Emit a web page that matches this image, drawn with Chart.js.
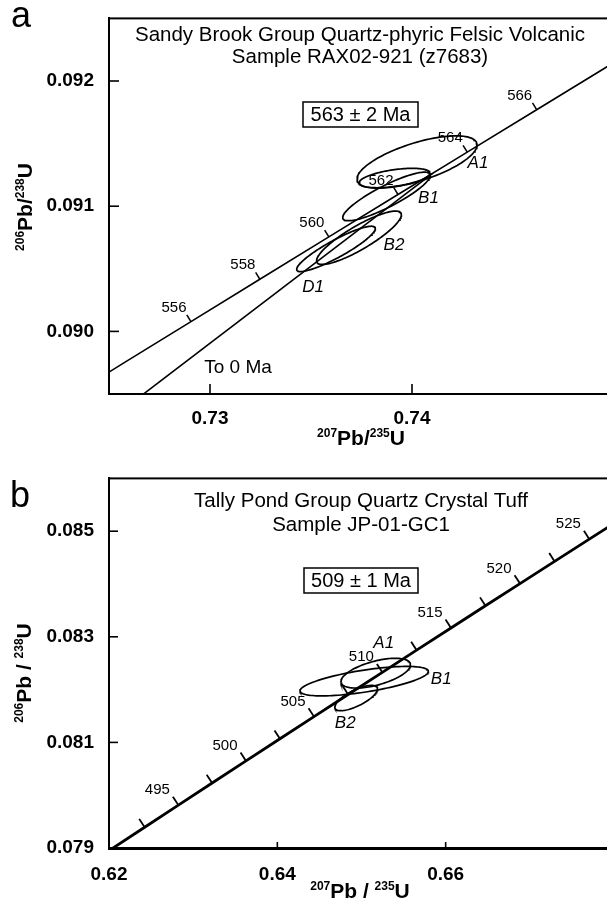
<!DOCTYPE html>
<html>
<head>
<meta charset="utf-8">
<title>U-Pb concordia diagrams</title>
<script src="https://cdn.jsdelivr.net/npm/chart.js@4.4.1/dist/chart.umd.min.js"></script>
<style>
  html, body { margin: 0; padding: 0; background: #fff; overflow: hidden; width: 607px; height: 904px; }
  .panel { position: absolute; left: 0; }
  #wrapA { top: 0; }
  #wrapB { top: 460px; }
  canvas { display: block; }
</style>
</head>
<body>
<div class="panel" id="wrapA"><canvas id="chartA" width="625" height="460"></canvas></div>
<div class="panel" id="wrapB"><canvas id="chartB" width="625" height="444"></canvas></div>
<script>
// ---------- Panel a: Sandy Brook Group, sample RAX02-921 (z7683) ----------
const concordiaAgeA   = [552, 554, 556, 558, 560, 562, 564, 566, 568, 570];
const concordiaPb207A = [0.722260, 0.725655, 0.729058, 0.732467, 0.735883, 0.739306, 0.742735, 0.746171, 0.749614, 0.753064];
const concordiaPb206A = [0.0894021, 0.0897402, 0.0900783, 0.0904165, 0.0907549, 0.0910934, 0.0914318, 0.0917706, 0.0921094, 0.0924482];
const markedAgeA      = [556, 558, 560, 562, 564, 566];
const labelledAgeA    = [556, 558, 560, 562, 564, 566];
// Pb-loss line from the upper intercept down to 0 Ma
const interceptAgeA   = 563;
const interceptPb207A = 0.741020;
const interceptPb206A = 0.0912626;
// zircon fractions: centre, 2-sigma half-widths and error correlation ('' = not labelled)
const fractionA    = ['A1', '', 'B1', 'B2', 'D1'];
const fracPb207A   = [0.740248, 0.739134, 0.738738, 0.737376, 0.736238];
const fracPb206A   = [0.091353, 0.091225, 0.091078, 0.090748, 0.090659];
const fracErr207A  = [0.002970, 0.001757, 0.002168, 0.002099, 0.001946];
const fracErr206A  = [0.000209, 0.0000775, 0.000194, 0.000213, 0.000181];
const fracRhoA     = [0.65, 0.50, 0.869, 0.863, 0.90];
const xTickLabelsA = ['0.73', '0.74'];
const yTickLabelsA = ['0.090', '0.091', '0.092'];

// ---------- Panel b: Tally Pond Group, sample JP-01-GC1 ----------
const concordiaAgeB   = [490, 492.5, 495, 497.5, 500, 502.5, 505, 507.5, 510, 512.5, 515, 517.5, 520, 522.5, 525, 527.5];
const concordiaPb207B = [0.620243, 0.624238, 0.628242, 0.632255, 0.636279, 0.640313, 0.644356, 0.648410, 0.652474, 0.656547, 0.660631, 0.664725, 0.668829, 0.672943, 0.677067, 0.681201];
const concordiaPb206B = [0.0789748, 0.0793932, 0.0798119, 0.0802308, 0.0806498, 0.0810688, 0.0814882, 0.0819077, 0.0823274, 0.0827473, 0.0831673, 0.0835873, 0.0840077, 0.0844281, 0.0848487, 0.0852696];
const markedAgeB      = [492.5, 495, 497.5, 500, 502.5, 505, 507.5, 510, 512.5, 515, 517.5, 520, 522.5, 525];
const labelledAgeB    = [495, 500, 505, 510, 515, 520, 525];
const fractionB    = ['A1', 'B1', 'B2'];
const fracPb207B   = [0.65169, 0.65032, 0.64937];
const fracPb206B   = [0.082311, 0.082160, 0.081840];
const fracErr207B  = [0.00413, 0.00763, 0.00254];
const fracErr206B  = [0.000282, 0.000279, 0.000240];
const fracRhoB     = [0.561, 0.658, 0.721];
const xTickLabelsB = ['0.62', '0.64', '0.66'];
const yTickLabelsB = ['0.079', '0.081', '0.083', '0.085'];

const FONT = '"Liberation Sans", Arial, Helvetica, sans-serif';

// outline of an error ellipse given its half-widths and correlation
function ellipseOutline(cx, cy, ex, ey, rho, n) {
  const pts = [];
  const s = Math.sqrt(1 - rho * rho);
  for (let i = 0; i <= n; i++) {
    const t = 2 * Math.PI * i / n;
    pts.push({ x: cx + ex * Math.cos(t), y: cy + ey * (rho * Math.cos(t) + s * Math.sin(t)) });
  }
  return pts;
}

function toPoints(xs, ys) { return xs.map((v, i) => ({ x: v, y: ys[i] })); }

// tick label only where the value is a whole step of the given decimals and listed
function labelFor(list, dec) {
  const f = Math.pow(10, dec);
  return v => {
    if (Math.abs(v * f - Math.round(v * f)) > 1e-6) return null;
    const s = v.toFixed(dec);
    return list.includes(s) ? s : null;
  };
}

// text with superscript mass numbers, centred on its baseline
function supText(ctx, parts, cx, cy, rotate, mainPx, supPx, rise) {
  ctx.save();
  ctx.translate(cx, cy);
  if (rotate) ctx.rotate(-Math.PI / 2);
  ctx.textAlign = 'left';
  ctx.textBaseline = 'alphabetic';
  const widths = parts.map(([t, sup]) => {
    ctx.font = `bold ${sup ? supPx : mainPx}px ${FONT}`;
    return ctx.measureText(t).width;
  });
  let x = -widths.reduce((s, v) => s + v, 0) / 2;
  parts.forEach(([t, sup], i) => {
    ctx.font = `bold ${sup ? supPx : mainPx}px ${FONT}`;
    ctx.fillText(t, x, sup ? -rise : 0);
    x += widths[i];
  });
  ctx.restore();
}

const concordiaDecor = {
  id: 'concordiaDecor',
  afterDatasetsDraw(chart, args, o) {
    const { ctx, chartArea: a, scales: { x, y } } = chart;
    ctx.save();
    ctx.beginPath();
    ctx.rect(a.left, a.top, a.right - a.left, a.bottom - a.top);
    ctx.clip();
    ctx.strokeStyle = '#000';
    ctx.fillStyle = '#000';
    ctx.lineWidth = o.ageTickWidth;
    // age marks on concordia
    o.marked.forEach(age => {
      const i = o.ages.indexOf(age);
      const px = x.getPixelForValue(o.pb207[i]), py = y.getPixelForValue(o.pb206[i]);
      const qx = x.getPixelForValue(o.pb207[i + 1]), qy = y.getPixelForValue(o.pb206[i + 1]);
      let tx = qx - px, ty = qy - py;
      const L = Math.hypot(tx, ty); tx /= L; ty /= L;
      const nx = ty, ny = -tx;
      ctx.beginPath();
      ctx.moveTo(px, py);
      ctx.lineTo(px + nx * o.ageTickLen, py + ny * o.ageTickLen);
      ctx.stroke();
    });
    ctx.font = `${o.ageFontSize}px ${FONT}`;
    ctx.textAlign = 'center';
    ctx.textBaseline = 'middle';
    o.labelled.forEach(age => {
      const i = o.ages.indexOf(age);
      const px = x.getPixelForValue(o.pb207[i]), py = y.getPixelForValue(o.pb206[i]);
      ctx.fillText(String(age), px + o.ageLabelDx, py + o.ageLabelDy);
    });
    // fraction names
    ctx.font = `italic ${o.fracFontSize}px ${FONT}`;
    o.fractions.forEach((name, i) => {
      if (!name) return;
      const px = x.getPixelForValue(o.fracX[i]), py = y.getPixelForValue(o.fracY[i]);
      ctx.fillText(name, px + o.fracDx[i], py + o.fracDy[i]);
    });
    ctx.restore();
  },
  afterDraw(chart, args, o) {
    const { ctx, chartArea: a, scales: { x, y } } = chart;
    ctx.save();
    ctx.strokeStyle = '#000';
    ctx.fillStyle = '#000';
    // frame
    ctx.lineWidth = 2;
    ctx.strokeRect(a.left, a.top, a.right - a.left, a.bottom - a.top);
    // inward tick marks
    ctx.lineWidth = 1.6;
    x.ticks.forEach(t => {
      const px = x.getPixelForValue(t.value);
      ctx.beginPath(); ctx.moveTo(px, a.bottom); ctx.lineTo(px, a.bottom - o.xTickLen); ctx.stroke();
    });
    y.ticks.forEach(t => {
      const py = y.getPixelForValue(t.value);
      ctx.beginPath(); ctx.moveTo(a.left, py); ctx.lineTo(a.left + o.yTickLen, py); ctx.stroke();
    });
    // panel letter
    ctx.font = `36px ${FONT}`;
    ctx.textAlign = 'left';
    ctx.textBaseline = 'alphabetic';
    ctx.fillText(o.letter, o.letterX, o.letterY);
    // title lines
    ctx.font = `${o.titleSize}px ${FONT}`;
    ctx.textAlign = 'center';
    o.title.forEach((line, i) => ctx.fillText(line, o.titleX, o.titleY[i]));
    // age box
    ctx.font = `20px ${FONT}`;
    ctx.textBaseline = 'middle';
    ctx.fillText(o.ageText, o.box[0] + o.box[2] / 2, o.box[1] + o.box[3] / 2 + 1);
    ctx.lineWidth = 1.5;
    ctx.strokeRect(o.box[0], o.box[1], o.box[2], o.box[3]);
    (o.notes || []).forEach(n => {
      ctx.font = `${n.size}px ${FONT}`;
      ctx.fillText(n.text, n.x, n.y);
    });
    // axis titles
    supText(ctx, o.xTitle, o.xTitlePos[0], o.xTitlePos[1], false, 21, 12, 8);
    supText(ctx, o.yTitle, o.yTitlePos[0], o.yTitlePos[1], true, 21, 12, 8);
    ctx.restore();
  }
};

function makeChart(id, cfg) {
  const tickFont = { family: FONT, size: 19, weight: 'bold' };
  const datasets = [
    { data: toPoints(cfg.pb207, cfg.pb206), borderWidth: cfg.concordiaWidth },
    ...cfg.extraLines.map(l => ({ data: l, borderWidth: cfg.concordiaWidth })),
    ...cfg.fracX.map((cx, i) => ({
      data: ellipseOutline(cx, cfg.fracY[i], cfg.errX[i], cfg.errY[i], cfg.rho[i], 120),
      borderWidth: 1.7
    }))
  ].map(d => Object.assign({ showLine: true, pointRadius: 0, borderColor: '#000', fill: false, tension: 0 }, d));

  return new Chart(document.getElementById(id), {
    type: 'scatter',
    data: { datasets },
    plugins: [concordiaDecor],
    options: {
      responsive: false,
      animation: false,
      events: [],
      layout: { padding: { left: 0, top: cfg.padTop, right: 11, bottom: 0 } },
      scales: {
        x: {
          type: 'linear', min: cfg.xMin, max: cfg.xMax,
          grid: { display: false },
          border: { display: true, color: '#000', width: cfg.xBorder },
          ticks: { stepSize: cfg.xStep, autoSkip: false, maxRotation: 0, minRotation: 0,
                   padding: cfg.xPad, color: '#000', font: tickFont, callback: labelFor(cfg.xLabels, 2) },
          afterFit: s => { s.height = cfg.xAxisHeight; }
        },
        y: {
          type: 'linear', min: cfg.yMin, max: cfg.yMax,
          grid: { display: false },
          border: { display: true, color: '#000', width: 2 },
          ticks: { stepSize: cfg.yStep, autoSkip: false, padding: 7, color: '#000', font: tickFont,
                   callback: labelFor(cfg.yLabels, 3) },
          afterFit: s => { s.width = 109; }
        }
      },
      plugins: {
        legend: { display: false },
        tooltip: { enabled: false },
        concordiaDecor: cfg.decor
      }
    }
  });
}

makeChart('chartA', {
  pb207: concordiaPb207A, pb206: concordiaPb206A,
  extraLines: [[{ x: 0, y: 0 }, { x: interceptPb207A, y: interceptPb206A }]],
  fracX: fracPb207A, fracY: fracPb206A, errX: fracErr207A, errY: fracErr206A, rho: fracRhoA,
  concordiaWidth: 1.6, xBorder: 2,
  xMin: 0.725, xMax: 0.75, xStep: 0.005, xLabels: xTickLabelsA, xPad: 5, xAxisHeight: 66,
  yMin: 0.0895, yMax: 0.0925, yStep: 0.0005, yLabels: yTickLabelsA,
  padTop: 7,
  decor: {
    ages: concordiaAgeA, pb207: concordiaPb207A, pb206: concordiaPb206A,
    marked: markedAgeA, labelled: labelledAgeA,
    ageTickLen: 8, ageTickWidth: 1.5, ageFontSize: 15, ageLabelDx: -17, ageLabelDy: -14,
    fractions: fractionA, fracX: fracPb207A, fracY: fracPb206A,
    fracDx: [61, 0, 42, 35, -23], fracDy: [1, 0, 2, 8, 38], fracFontSize: 17,
    xTickLen: 10, yTickLen: 10,
    letter: 'a', letterX: 11, letterY: 27,
    title: ['Sandy Brook Group Quartz-phyric Felsic Volcanic', 'Sample RAX02-921 (z7683)'],
    titleSize: 20.5, titleX: 360, titleY: [41, 63],
    ageText: '563 \u00b1 2 Ma', box: [303, 102, 115, 25],
    notes: [{ text: 'To 0 Ma', x: 238, y: 368, size: 19 }],
    xTitle: [['207', true], ['Pb/', false], ['235', true], ['U', false]], xTitlePos: [361, 445],
    yTitle: [['206', true], ['Pb/', false], ['238', true], ['U', false]], yTitlePos: [32, 207]
  }
});

makeChart('chartB', {
  pb207: concordiaPb207B, pb206: concordiaPb206B,
  extraLines: [],
  fracX: fracPb207B, fracY: fracPb206B, errX: fracErr207B, errY: fracErr206B, rho: fracRhoB,
  concordiaWidth: 2.8, xBorder: 3,
  xMin: 0.62, xMax: 0.68, xStep: 0.01, xLabels: xTickLabelsB, xPad: 7, xAxisHeight: 56,
  yMin: 0.079, yMax: 0.086, yStep: 0.001, yLabels: yTickLabelsB,
  padTop: 17,
  decor: {
    ages: concordiaAgeB, pb207: concordiaPb207B, pb206: concordiaPb206B,
    marked: markedAgeB, labelled: labelledAgeB,
    ageTickLen: 10, ageTickWidth: 1.8, ageFontSize: 15, ageLabelDx: -21, ageLabelDy: -15,
    fractions: fractionB, fracX: fracPb207B, fracY: fracPb206B,
    fracDx: [8, 77, -11], fracDy: [-30, -2, 25], fracFontSize: 17,
    xTickLen: 6, yTickLen: 9,
    letter: 'b', letterX: 10, letterY: 47,
    title: ['Tally Pond Group Quartz Crystal Tuff', 'Sample JP-01-GC1'],
    titleSize: 20.5, titleX: 361, titleY: [47, 71],
    ageText: '509 \u00b1 1 Ma', box: [304, 108, 114, 25],
    notes: [],
    xTitle: [['207', true], ['Pb / ', false], ['235', true], ['U', false]], xTitlePos: [360, 438],
    yTitle: [['206', true], ['Pb / ', false], ['238', true], ['U', false]], yTitlePos: [31, 213]
  }
});
</script>
</body>
</html>
